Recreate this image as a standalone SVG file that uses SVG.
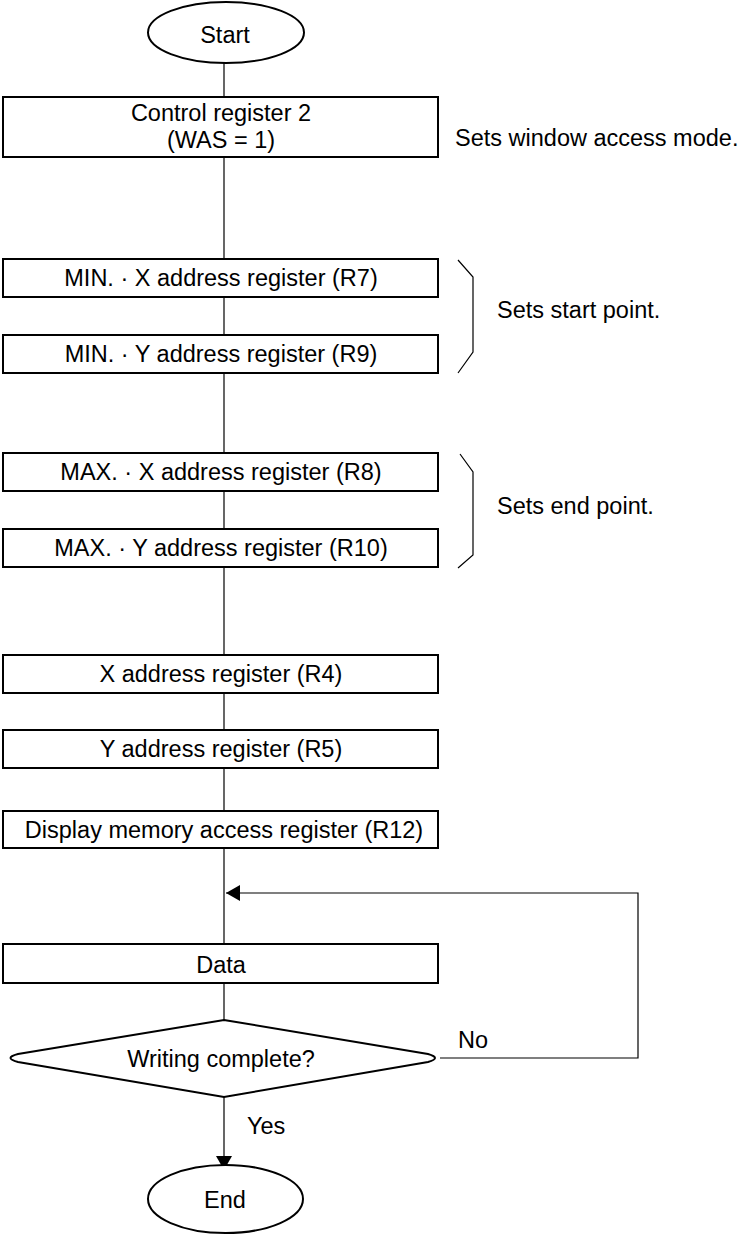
<svg xmlns="http://www.w3.org/2000/svg" width="739" height="1235" viewBox="0 0 739 1235">
<defs>
<style>
.box{fill:#fff;stroke:#000;stroke-width:2}
.ln{fill:none;stroke:#000;stroke-width:1.2}
.t{font-family:"Liberation Sans",Arial,sans-serif;font-size:23.5px;fill:#000}
.c{text-anchor:middle}
</style>
<marker id="ah" viewBox="0 0 14 16" refX="14" refY="8" markerWidth="14" markerHeight="16" markerUnits="userSpaceOnUse" orient="auto">
<path d="M0,0 L14,8 L0,16 Z" fill="#000"/>
</marker>
</defs>
<rect width="739" height="1235" fill="#fff"/>
<g id="connectors">
<line class="ln" x1="224" y1="63" x2="224" y2="97"/>
<line class="ln" x1="224" y1="157" x2="224" y2="259"/>
<line class="ln" x1="224" y1="297" x2="224" y2="335"/>
<line class="ln" x1="224" y1="373" x2="224" y2="453"/>
<line class="ln" x1="224" y1="491" x2="224" y2="529"/>
<line class="ln" x1="224" y1="567" x2="224" y2="655"/>
<line class="ln" x1="224" y1="693" x2="224" y2="730"/>
<line class="ln" x1="224" y1="768" x2="224" y2="811"/>
<line class="ln" x1="224" y1="848" x2="224" y2="944"/>
<line class="ln" x1="224" y1="983" x2="224" y2="1020"/>
<line class="ln" x1="224" y1="1097" x2="224" y2="1170" marker-end="url(#ah)"/>
<polyline class="ln" points="440,1058 638,1058 638,893 226,893" marker-end="url(#ah)"/>
<text class="t" x="458" y="1048">No</text>
<text class="t" x="247" y="1134">Yes</text>
</g>
<g id="start">
<ellipse class="box" cx="226" cy="32.5" rx="78" ry="30.5"/>
<text class="t c" x="225" y="43">Start</text>
</g>
<g id="control">
<rect class="box" x="3" y="97" width="435" height="60"/>
<text class="t c" x="221" y="121">Control register 2</text>
<text class="t c" x="221" y="148">(WAS = 1)</text>
</g>
<text id="note-window" class="t" x="455" y="146">Sets window access mode.</text>
<g id="minx">
<rect class="box" x="3" y="259" width="435" height="38"/>
<text class="t c" x="221" y="286">MIN. · X address register (R7)</text>
</g>
<g id="miny">
<rect class="box" x="3" y="335" width="435" height="38"/>
<text class="t c" x="221" y="362">MIN. · Y address register (R9)</text>
</g>
<g id="start-bracket">
<polyline class="ln" points="458,260 473,277 473,352 458,373"/>
<text class="t" x="497" y="318">Sets start point.</text>
</g>
<g id="maxx">
<rect class="box" x="3" y="453" width="435" height="38"/>
<text class="t c" x="221" y="480">MAX. · X address register (R8)</text>
</g>
<g id="maxy">
<rect class="box" x="3" y="529" width="435" height="38"/>
<text class="t c" x="221" y="556">MAX. · Y address register (R10)</text>
</g>
<g id="end-bracket">
<polyline class="ln" points="460,454 473,472 473,555 458,568"/>
<text class="t" x="497" y="514">Sets end point.</text>
</g>
<g id="xaddr">
<rect class="box" x="3" y="655" width="435" height="38"/>
<text class="t c" x="221" y="682">X address register (R4)</text>
</g>
<g id="yaddr">
<rect class="box" x="3" y="730" width="435" height="38"/>
<text class="t c" x="221" y="757">Y address register (R5)</text>
</g>
<g id="dispmem">
<rect class="box" x="3" y="811" width="435" height="37"/>
<text class="t c" x="224" y="838">Display memory access register (R12)</text>
</g>
<g id="data">
<rect class="box" x="3" y="944" width="435" height="39"/>
<text class="t c" x="221" y="973">Data</text>
</g>
<g id="decision">
<path class="box" d="M224,1020 L428,1054 Q442,1058 428,1062 L224,1097 L18,1062 Q3,1058 18,1054 Z"/>
<text class="t c" x="221" y="1067">Writing complete?</text>
</g>
<g id="end">
<ellipse class="box" cx="225.5" cy="1199" rx="77.5" ry="34"/>
<text class="t c" x="225" y="1208">End</text>
</g>
</svg>
